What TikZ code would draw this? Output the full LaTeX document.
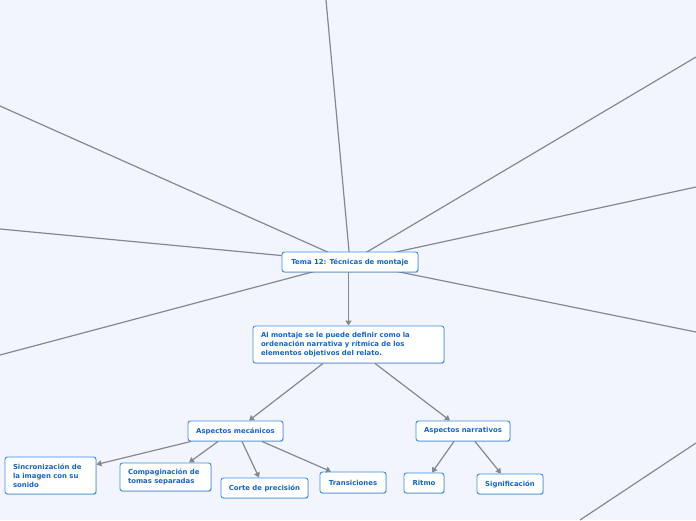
\documentclass[tikz,border=0pt]{standalone}
\usepackage{fontspec}
\setmainfont{DejaVu Sans}
\usetikzlibrary{arrows.meta,backgrounds,shadows}
\definecolor{paper}{HTML}{F2F5FD}
\definecolor{edge}{HTML}{3A8EE6}
\definecolor{label}{HTML}{1565C8}
\definecolor{wire}{HTML}{858891}
\tikzset{
  topic/.style={draw=edge, line width=0.9pt, rounded corners=2.5pt, fill=white,
                text=label, font=\bfseries\fontsize{6.9}{9}\selectfont,
                align=center, inner sep=0pt,
                drop shadow={shadow xshift=0.7pt, shadow yshift=-0.9pt, fill=black, opacity=0.18}},
  para/.style={topic, align=left, inner xsep=8pt, inner ysep=3pt},
  % ---- connectors ----
  conn/.style={-{Triangle[length=5pt,width=6pt]}, line width=1.2pt, draw=wire},
  spoke/.style={line width=1.2pt, draw=wire},
}

\begin{document}
\begin{tikzpicture}[x=1pt,y=-1pt]
\useasboundingbox (0,0) rectangle (696,520);
\begin{scope}[on background layer]
  \fill[paper] (0,0) rectangle (696,520);
\end{scope}
% central topic and definition
\node[topic, minimum width=136pt, minimum height=20pt] (tema) at (350,262) {Tema 12: Técnicas de montaje};
\node[para, text width=175pt, minimum height=37pt] (defin) at (348.5,344.5)
   {Al montaje se le puede definir como la\\ordenación narrativa y rítmica de los\\elementos objetivos del relato.};
% aspects
\node[topic, minimum width=95pt, minimum height=20pt] (mec) at (235.5,431) {Aspectos mecánicos};
\node[topic, minimum width=94pt, minimum height=20pt] (narr) at (463,431) {Aspectos narrativos};
% mechanical
\node[para, text width=75pt, minimum height=37pt] (sinc) at (50.5,475.5) {Sincronización de\\la imagen con su\\sonido};
\node[para, text width=75pt, minimum height=28pt] (comp) at (165.5,477) {Compaginación de\\tomas separadas};
\node[topic, minimum width=87pt, minimum height=20pt] (corte) at (264.5,488) {Corte de precisión};
\node[topic, minimum width=66pt, minimum height=21pt] (trans) at (353,482.5) {Transiciones};
% narrative
\node[topic, minimum width=40pt, minimum height=20pt] (ritmo) at (424,483) {Ritmo};
\node[topic, minimum width=66pt, minimum height=20pt] (signif) at (510,484) {Significación};
% free ends of the spokes
\coordinate (up) at (326,0);
\coordinate (wa) at (0,106);
\coordinate (wb) at (0,229);
\coordinate (wc) at (0,355);
\coordinate (ea) at (696,57);
\coordinate (eb) at (696,187);
\coordinate (ec) at (696,332);
\coordinate (sa) at (580,520);
\coordinate (sb) at (696,443);
\begin{scope}[on background layer]
  \foreach \e in {up,wa,wb,wc,ea,eb,ec}{ \draw[spoke] (tema.center) -- (\e); }
  \draw[spoke] (sa) -- (sb);
\end{scope}
% arrows
\draw[conn] ([xshift=-1.5pt]tema.south) -- (defin.north);
\draw[conn] ([xshift=-25.5pt]defin.south) -- ([xshift=13.5pt]mec.north);
\draw[conn] ([xshift=26.5pt]defin.south) -- ([xshift=-13pt]narr.north);
\draw[conn] ([xshift=-44.5pt]mec.south) -- ([yshift=11pt]sinc.east);
\draw[conn] ([xshift=-17.5pt]mec.south) -- ([xshift=23.5pt]comp.north);
\draw[conn] ([xshift=6.5pt]mec.south) -- ([xshift=-5.5pt]corte.north);
\draw[conn] ([xshift=26.5pt]mec.south) -- ([xshift=-22pt]trans.north);
\draw[conn] ([xshift=-9pt]narr.south) -- ([xshift=8pt]ritmo.north);
\draw[conn] ([xshift=12pt]narr.south) -- ([xshift=-9pt]signif.north);
\end{tikzpicture}
\end{document}
